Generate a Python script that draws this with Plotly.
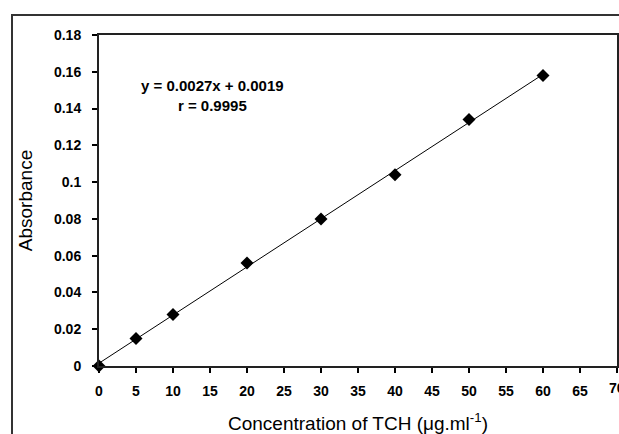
import numpy as np
import plotly.graph_objects as go

# Data
conc = [0, 5, 10, 20, 30, 40, 50, 60]
absorbance = [0.0, 0.015, 0.028, 0.056, 0.080, 0.104, 0.134, 0.158]
x_ticks = list(range(0, 75, 5))
y_ticks = [0, 0.02, 0.04, 0.06, 0.08, 0.1, 0.12, 0.14, 0.16, 0.18]
y_ticktext = ["0", "0.02", "0.04", "0.06", "0.08", "0.1", "0.12", "0.14", "0.16", "0.18"]
eq_lines = ["y = 0.0027x + 0.0019", "r = 0.9995"]

# least squares line through the data
slope, intercept = np.polyfit(conc, absorbance, 1)
fit_x = [min(conc), max(conc)]
fit_y = [slope * v + intercept for v in fit_x]

FONT = "Liberation Sans, Arial, sans-serif"

fig = go.Figure()
fig.add_trace(go.Scatter(x=fit_x, y=fit_y, mode="lines",
                         line=dict(color="black", width=1),
                         showlegend=False, hoverinfo="skip", cliponaxis=False))
fig.add_trace(go.Scatter(x=conc, y=absorbance, mode="markers",
                         marker=dict(symbol="diamond", size=10, color="black"),
                         showlegend=False, cliponaxis=False))

L, R, T, B = 99, 2, 35, 68
W, H = 619, 434
pw, ph = W - L - R, H - T - B

def px(xp):
    return (xp - L) / pw

def py(yp):
    return (H - B - yp) / ph

# outer frame (extends past the right and bottom edges of the picture)
fig.add_shape(type="rect", xref="paper", yref="paper",
              x0=px(12), x1=px(640), y0=py(460), y1=py(15),
              line=dict(color="#333", width=2), layer="below")

fig.add_annotation(x=px(212), y=py(95), xref="paper", yref="paper",
                   xanchor="center", yanchor="middle",
                   text="<br>".join("<b>" + s + "</b>" for s in eq_lines),
                   showarrow=False, align="center",
                   font=dict(family=FONT, size=15, color="black"))

# last x tick label, partly cut off by the right edge as in the reference
fig.add_annotation(x=x_ticks[-1], y=py(388), xref="x", yref="paper",
                   xanchor="center", yanchor="middle",
                   text="<b>%d</b>" % x_ticks[-1], showarrow=False,
                   font=dict(family=FONT, size=14, color="black"))

fig.update_layout(
    width=W, height=H,
    margin=dict(l=L, r=R, t=T, b=B, autoexpand=False),
    plot_bgcolor="white", paper_bgcolor="white",
    font=dict(family=FONT, color="black"),
    xaxis=dict(range=[0, 70], tickvals=x_ticks, ticks="outside", ticklen=5,
               tickwidth=2, tickcolor="black", showgrid=False, zeroline=False,
               showline=True, linecolor="#222", linewidth=2, mirror=True,
               tickfont=dict(size=14, family=FONT, weight="bold"),
               ticklabelstandoff=6, automargin=False,
               title=dict(text="Concentration of TCH (μg.ml<sup>-1</sup>)",
                          font=dict(size=19, family=FONT), standoff=19)),
    yaxis=dict(range=[0, 0.18], tickvals=y_ticks, ticktext=y_ticktext,
               ticks="outside", ticklen=5, tickwidth=2, tickcolor="black",
               showgrid=False, zeroline=False, showline=True,
               linecolor="#222", linewidth=2, mirror=True,
               tickfont=dict(size=14, family=FONT, weight="bold"),
               ticklabelstandoff=8, automargin=False,
               title=dict(text="Absorbance", font=dict(size=19, family=FONT),
                          standoff=16)),
)

fig.write_html("out.html")
